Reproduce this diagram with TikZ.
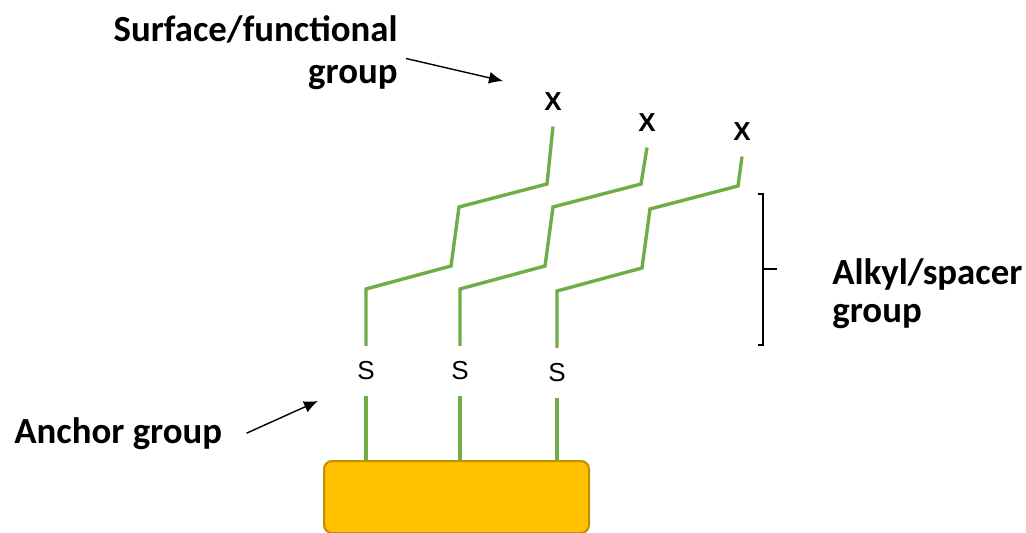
\documentclass[tikz,border=0pt]{standalone}
\usepackage{fontspec}
\usepackage{xcolor}
\usepackage{tikz}
\usetikzlibrary{arrows.meta}
\setmainfont{Carlito}
\newfontfamily\arialfont{Liberation Sans}
\definecolor{chaingreen}{HTML}{70AD47}
\definecolor{goldfill}{HTML}{FFC000}
\definecolor{goldedge}{HTML}{BF9000}

\begin{document}
\begin{tikzpicture}[x=0.5pt,y=-0.5pt,
  chain/.style={chaingreen, line width=1.7pt},
  atom/.style={font=\arialfont\fontsize{13}{15}\selectfont, inner xsep=1pt, inner ysep=7.7pt},
  endgrp/.style={font=\arialfont\bfseries\fontsize{13}{15}\selectfont, inner xsep=1pt, inner ysep=7.6pt},
  lbl/.style={font=\bfseries\fontsize{18.4}{21}\selectfont, inner sep=0pt},
  arr/.style={-{Latex[length=7pt,width=6pt]}, line width=0.7pt}]
  \useasboundingbox (0,0) rectangle (1026,533);
  \node[draw=goldedge, fill=goldfill, line width=1pt, rounded corners=4pt,
        minimum width=132.5pt, minimum height=36pt] (sub) at (456.5,497) {};
  \node[atom] (s1) at (366,371) {S};
  \node[atom] (s2) at (460,371) {S};
  \node[atom] (s3) at (557,373) {S};
  \node[endgrp] (x1) at (553,102) {X};
  \node[endgrp] (x2) at (647,123) {X};
  \node[endgrp] (x3) at (742,132) {X};
  \foreach \i in {1,2,3}{
    \draw[chain] (s\i.north) -- ++(0,-57) -- ++(85,-23) -- ++(8,-59) -- ++(88,-23) -- (x\i.south);
    \draw[chain] (s\i.south) -- (s\i.south |- sub.north);
  }
  \draw[line width=1pt] (758,194) -- (763,194) -- (763,345) -- (758,345);
  \draw[line width=1pt] (763,269) -- (777,269);
  \node[lbl, align=left, anchor=west, font=\bfseries\fontsize{18.4}{19}\selectfont] (alkyl) at (832,293.5) {Alkyl/spacer\\group};
  \node[lbl, align=right, anchor=east] (surf) at (398,52.5) {Surface/functional\\group};
  \node[lbl, anchor=base west] (anc) at (14,443) {Anchor group};
  \coordinate (surftip) at (503,81);
  \coordinate (anctip) at (318,401);
  \draw[arr] ([xshift=4pt,yshift=-3pt]surf.east) -- (surftip);
  \draw[arr] ([xshift=12pt]anc.east) -- (anctip);
\end{tikzpicture}
\end{document}
